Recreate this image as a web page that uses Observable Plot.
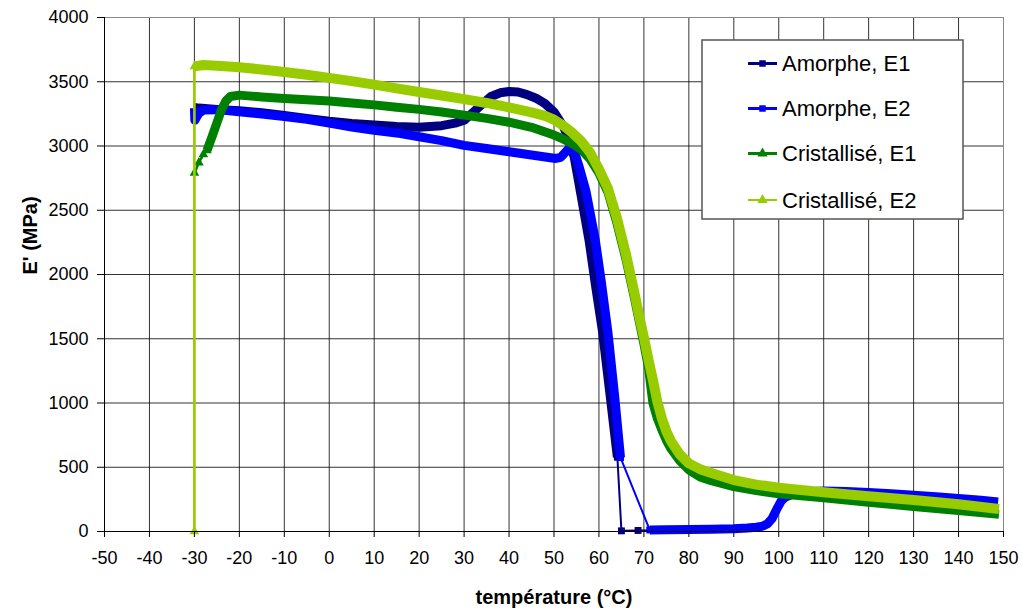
<!DOCTYPE html>
<html>
<head>
<meta charset="utf-8">
<script src="https://cdn.jsdelivr.net/npm/d3@7"></script>
<script src="https://cdn.jsdelivr.net/npm/@observablehq/plot@0.6"></script>
<style>
  html, body { margin: 0; padding: 0; background: #fff; }
  #wrap { position: relative; width: 1023px; height: 612px; }
  #legend { position: absolute; left: 0; top: 0; }
</style>
</head>
<body>
<div id="wrap"></div>
<script>
// ---------- data ----------
const seriesNames = ["Amorphe, E1", "Amorphe, E2", "Cristallisé, E1", "Cristallisé, E2"];
const seriesColors = ["#000080", "#0000FF", "#008000", "#99CC00"];
const seriesSymbols = ["square", "square", "triangle", "triangle"];

const xTicks = [-50, -40, -30, -20, -10, 0, 10, 20, 30, 40, 50, 60, 70, 80, 90, 100, 110, 120, 130, 140, 150];
const yTicks = [0, 500, 1000, 1500, 2000, 2500, 3000, 3500, 4000];

// Amorphe, E1 (dense part)
const amE1_T = [-30, -29, -25, -20, -15, -10, -5, 0, 5, 10, 15, 20, 25, 28, 30, 32, 34, 36, 38, 40, 42, 44, 46, 48, 50, 52.2, 53.5, 54.5, 56, 57.8, 59.3, 60.8, 62.5, 64.1];
const amE1_E = [3300, 3295, 3285, 3275, 3258, 3238, 3215, 3192, 3175, 3163, 3152, 3146, 3158, 3178, 3200, 3262, 3325, 3385, 3414, 3424, 3420, 3400, 3372, 3330, 3265, 3144, 3030, 2913, 2620, 2265, 1900, 1555, 1055, 578];
// Amorphe, E1 (sparse part)
const amE1_sT = [64.1, 65.0, 68.7, 73.8];
const amE1_sE = [578, 5, 8, 10];

// Amorphe, E2 (dense parts)
const amE2_T = [-30, -29.9, -29.5, -29, -28, -25, -20, -15, -10, -5, 0, 5, 10, 15.9, 20, 25, 30, 35, 40, 45, 50.4, 51.5, 52.5, 53.7, 54.5, 55.5, 57.1, 58.2, 59.2, 60.5, 62, 63.5, 64.8];
const amE2_E = [3295, 3200, 3225, 3255, 3280, 3283, 3266, 3248, 3230, 3207, 3178, 3148, 3122, 3097, 3072, 3042, 3005, 2980, 2955, 2930, 2903, 2912, 2950, 2996, 2960, 2850, 2650, 2450, 2265, 1950, 1550, 1050, 575];
const amE2_T2 = [71.3, 75, 80, 85, 90, 93, 95, 96.5, 97.5, 98.5, 99.5, 100.5, 101.5, 103, 105, 110, 115, 120, 125, 130, 135, 140, 145, 148.8];
const amE2_E2 = [12, 14, 16, 18, 22, 27, 33, 42, 60, 100, 170, 235, 268, 290, 305, 316, 312, 303, 293, 282, 270, 257, 243, 230];
// Amorphe, E2 (sparse part)
const amE2_sT = [64.8, 71.3];
const amE2_sE = [575, 12];

// Cristallisé, E1
const crE1_sT = [-30, -29, -28, -27.2];
const crE1_sE = [2790, 2870, 2935, 2965];
const crE1_T = [-27.2, -26, -25, -24, -23, -22, -20, -18, -15, -10, -5, 0, 5, 10, 15, 20, 25, 30, 35, 40, 45, 50, 52, 54, 56, 58, 60, 62, 64, 66, 68, 70, 71, 72, 73, 74, 75, 76, 78, 80, 82.5, 85, 90, 95, 100, 110, 120, 130, 140, 149];
const crE1_E = [2965, 3080, 3180, 3280, 3350, 3385, 3396, 3390, 3382, 3370, 3360, 3350, 3335, 3320, 3302, 3285, 3265, 3240, 3215, 3185, 3145, 3085, 3055, 3020, 2975, 2900, 2790, 2640, 2400, 2120, 1800, 1460, 1280, 1000, 880, 790, 710, 645, 550, 480, 425, 395, 350, 318, 293, 262, 228, 195, 163, 135];

// Cristallisé, E2
const crE2_sT = [-30, -30];
const crE2_sE = [0, 3620];
const crE2_T = [-30, -28, -25, -20, -15, -10, -5, 0, 5, 10, 15, 20, 25, 30, 35, 40, 45, 48, 50, 52, 54, 56, 58, 60, 62, 64, 66, 68, 69, 70, 71, 72, 73, 74, 75, 76, 78, 80, 82.5, 85, 90, 95, 100, 110, 120, 130, 140, 149];
const crE2_E = [3620, 3630, 3625, 3612, 3596, 3576, 3555, 3530, 3505, 3478, 3448, 3420, 3393, 3365, 3335, 3300, 3262, 3235, 3205, 3160, 3105, 3040, 2950, 2820, 2670, 2440, 2160, 1840, 1670, 1510, 1340, 1180, 1010, 880, 780, 705, 600, 530, 485, 455, 400, 365, 340, 305, 275, 245, 212, 175];

// ---------- build ----------
const zip = (T, E) => T.map((t, i) => ({T: t, E: E[i]}));
const series = [
  {dense: [zip(amE1_T, amE1_E)], sparse: [zip(amE1_sT, amE1_sE)], thin: 2, thick: 9},
  {dense: [zip(amE2_T, amE2_E), zip(amE2_T2, amE2_E2)], sparse: [zip(amE2_sT, amE2_sE)], thin: 2, thick: 9},
  {dense: [zip(crE1_T, crE1_E)], sparse: [zip(crE1_sT, crE1_sE)], thin: 2.5, thick: 9},
  {dense: [zip(crE2_T, crE2_E)], sparse: [zip(crE2_sT, crE2_sE)], thin: 2.7, thick: 10}
];

const marks = [
  Plot.gridX(xTicks, {stroke: "#000", strokeOpacity: 0.8}),
  Plot.gridY(yTicks, {stroke: "#000", strokeOpacity: 0.8}),
  Plot.frame({stroke: "#888"})
];

series.forEach((s, i) => {
  const color = seriesColors[i];
  s.sparse.forEach(seg => {
    marks.push(Plot.line(seg, {x: "T", y: "E", stroke: color, strokeWidth: s.thin}));
    marks.push(Plot.dot(seg, {x: "T", y: "E", fill: color, stroke: "none", symbol: seriesSymbols[i], r: seriesSymbols[i] === "square" ? 3.9 : 3.6}));
  });
  s.dense.forEach(seg => {
    marks.push(Plot.line(seg, {x: "T", y: "E", stroke: color, strokeWidth: s.thick, strokeLinejoin: "round", strokeLinecap: "butt"}));
  });
});

marks.push(
  Plot.ruleX([-50], {stroke: "#000", strokeWidth: 1}),
  Plot.ruleY([0], {stroke: "#000", strokeWidth: 1}),
  Plot.axisX(xTicks, {tickSize: 6, tickPadding: 14, tickFormat: d => String(d), label: null, fontSize: 18}),
  Plot.axisY(yTicks, {tickSize: 7, tickPadding: 9, tickFormat: d => String(d), label: null, fontSize: 18}),
  Plot.text(["température (°C)"], {text: d => d, frameAnchor: "bottom", dy: 72, fontWeight: "bold", fontSize: 20}),
  Plot.text(["E' (MPa)"], {text: d => d, frameAnchor: "left", dx: -74, rotate: -90, fontWeight: "bold", fontSize: 20})
);

const chart = Plot.plot({
  width: 1023,
  height: 612,
  marginLeft: 104,
  marginRight: 20,
  marginTop: 17,
  marginBottom: 81,
  style: {fontFamily: "'Liberation Sans', Arial, sans-serif", fontSize: "18px", background: "#fff", color: "#000", overflow: "visible"},
  x: {domain: [-50, 150]},
  y: {domain: [0, 4000]},
  marks
});
document.getElementById("wrap").appendChild(chart);

// ---------- legend ----------
const lg = d3.select("#wrap").append("svg")
  .attr("id", "legend")
  .attr("width", 1023).attr("height", 612)
  .style("font-family", "'Liberation Sans', Arial, sans-serif");
lg.append("rect")
  .attr("x", 702).attr("y", 40).attr("width", 261).attr("height", 179)
  .attr("fill", "#fff").attr("stroke", "#555").attr("stroke-width", 1.5);
const rowY = [63.5, 108.5, 153.5, 200];
seriesNames.forEach((name, i) => {
  const g = lg.append("g").attr("transform", `translate(0,${rowY[i]})`);
  g.append("line").attr("x1", 748).attr("x2", 777).attr("y1", 0).attr("y2", 0)
    .attr("stroke", seriesColors[i]).attr("stroke-width", i === 3 ? 2 : 3);
  g.append("path")
    .attr("d", d3.symbol(seriesSymbols[i] === "square" ? d3.symbolSquare : d3.symbolTriangle, seriesSymbols[i] === "square" ? 42 : 45)())
    .attr("transform", "translate(762.5,0)")
    .attr("fill", seriesColors[i]);
  g.append("text").attr("x", 782).attr("y", 0).attr("dy", "0.35em")
    .attr("font-size", 22).attr("fill", "#000").text(name);
});
</script>
</body>
</html>
